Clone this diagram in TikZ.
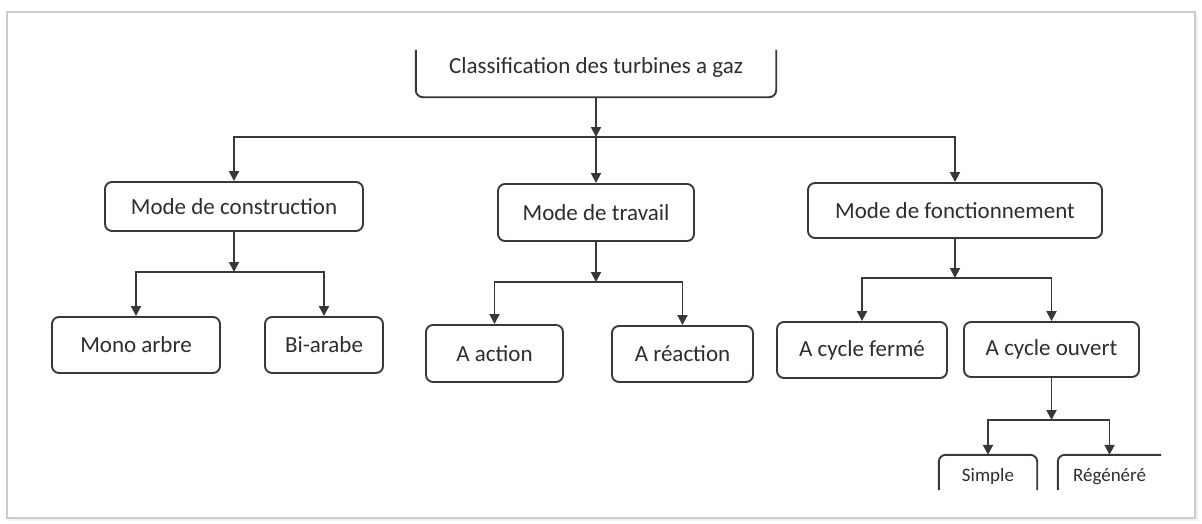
\documentclass[tikz,border=0pt]{standalone}
\usepackage{fontspec}
\setmainfont{Carlito}
\usepackage{xcolor}
\usepackage{tikz}
\usetikzlibrary{arrows.meta, positioning}
\definecolor{ink}{HTML}{2E2E2E}
\definecolor{edge}{HTML}{383838}

\begin{document}
\begin{tikzpicture}[
    x=1pt, y=-1pt,
    box/.style={rectangle, draw=edge, line width=1.9pt, rounded corners=7pt, text=ink, inner sep=0pt, font=\fontsize{23}{27}\selectfont},
    cutbox/.style={rectangle, inner sep=0pt, text=ink},
    border/.style={draw=edge, line width=1.9pt, rounded corners=7pt},
    arrow/.style={-{Triangle[length=10pt, width=10pt]}, line width=1.9pt, draw=edge},
    panel/.style={draw=gray!40, line width=1.5pt}
]
\useasboundingbox (0,0) rectangle (1202,523);

% Frame
\fill[gray!12] (9,14) rectangle (1198,521);
\fill[white] (7,12) rectangle (1195,518);
\draw[panel] (7,12) rectangle (1195,518);

% Nodes
\node[cutbox, minimum width=360pt, minimum height=47pt, text height=17pt, text depth=17pt,
      font=\fontsize{23}{27}\selectfont] (classif) at (596,73.5) {Classification des turbines a gaz};

\node[box, minimum width=258pt, minimum height=49pt] (construction) at (234,206.5) {Mode de construction};
\node[box, minimum width=196pt, minimum height=57pt] (travail) at (596,212.5) {Mode de travail};
\node[box, minimum width=294pt, minimum height=55pt] (fonctionnement) at (955,210.5) {Mode de fonctionnement};

\node[box, minimum width=168pt, minimum height=56pt] (mono) at (136,345) {Mono arbre};
\node[box, minimum width=118pt, minimum height=56pt] (biarabe) at (324,345) {Bi-arabe};
\node[box, minimum width=137pt, minimum height=57pt] (action) at (494.5,353.5) {A action};
\node[box, minimum width=141pt, minimum height=56pt] (reaction) at (682.5,354) {A réaction};
\node[box, minimum width=170pt, minimum height=56pt] (ferme) at (862,350) {A cycle fermé};
\node[box, minimum width=175pt, minimum height=55pt] (ouvert) at (1051.5,349.5) {A cycle ouvert};

\node[cutbox, minimum width=98pt, minimum height=35pt, text height=22pt, text depth=5pt,
      font=\fontsize{19}{23}\selectfont] (simple) at (988,472.5) {Simple};
\node[cutbox, minimum width=103pt, minimum height=35pt, text height=22pt, text depth=5pt,
      font=\fontsize{19}{23}\selectfont] (regenere) at (1109.5,472.5) {Régénéré};

% Cut borders
\draw[border] (classif.north west) -- (classif.south west) -- (classif.south east) -- (classif.north east);
\draw[border] (simple.south west) -- (simple.north west) -- (simple.north east) -- (simple.south east);
\draw[border] (regenere.south west) -- (regenere.north west) -- (regenere.north east);

% Junctions
\coordinate (j0) at (classif.south |- 0,137);
\coordinate (j1) at (construction.south |- 0,272);
\coordinate (j2) at (travail.south |- 0,282);
\coordinate (j3) at (fonctionnement.south |- 0,278);
\coordinate (j4) at (ouvert.south |- 0,420);

% Arrows
\draw[arrow] (classif.south) -- (j0);
\draw[arrow] (j0) -| (construction);
\draw[arrow] (j0) -- (travail);
\draw[arrow] (j0) -| (fonctionnement);

\draw[arrow] (construction) -- (j1);
\draw[arrow] (j1) -| (mono);
\draw[arrow] (j1) -| (biarabe);

\draw[arrow] (travail) -- (j2);
\draw[arrow] (j2) -| (action);
\draw[arrow] (j2) -| (reaction);

\draw[arrow] (fonctionnement) -- (j3);
\draw[arrow] (j3) -| (ferme);
\draw[arrow] (j3) -| (ouvert);

\draw[arrow] (ouvert) -- (j4);
\draw[arrow] (j4) -| (simple.north);
\draw[arrow] (j4) -| (regenere.north);

\end{tikzpicture}
\end{document}
